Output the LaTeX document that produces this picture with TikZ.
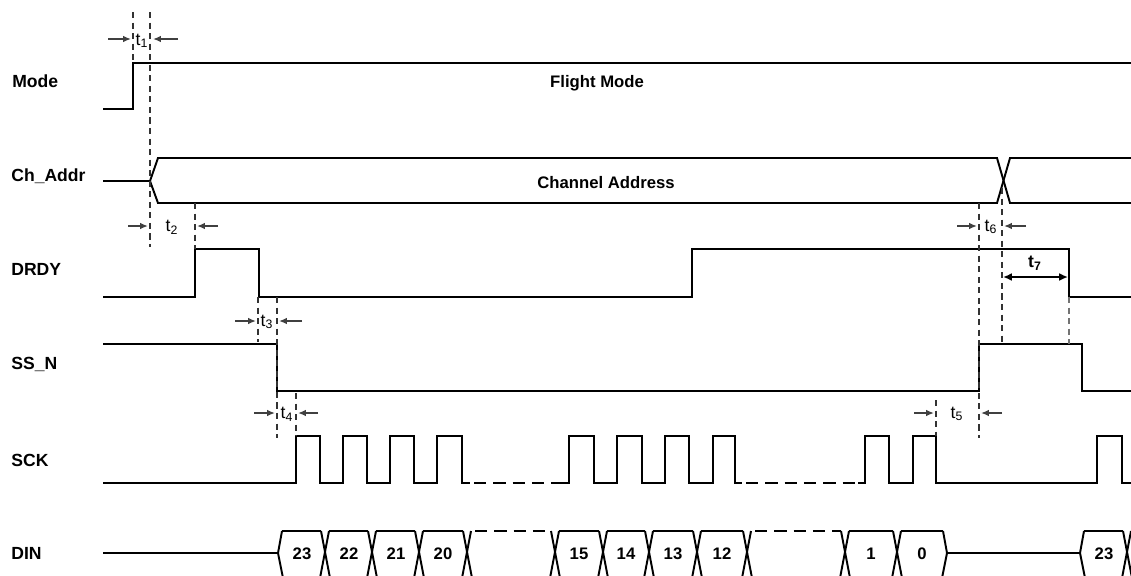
\documentclass[tikz,border=0pt]{standalone}
\usepackage{fontspec}
\setmainfont{Liberation Sans}
\usetikzlibrary{arrows.meta}
\begin{document}
\begin{tikzpicture}[x=0.02cm,y=-0.02cm,
  sig/.style={line width=1.1pt, line join=miter, line cap=butt},
  busdash/.style={sig, dash pattern=on 7pt off 4pt},
  guide/.style={line width=0.8pt, black!80, dash pattern=on 3.5pt off 2.5pt},
  marrow/.style={line width=0.9pt, black!75, -{Latex[length=4.5pt,width=3.8pt]}},
  barrow/.style={line width=1.3pt, black, {Latex[length=5pt,width=4.5pt]}-{Latex[length=5pt,width=4.5pt]}},
  lbl/.style={font=\fontsize{10}{12}\selectfont\bfseries, anchor=base west, inner sep=0pt},
  inlbl/.style={font=\fontsize{9.5}{11}\selectfont\bfseries, anchor=base, inner sep=0pt},
  tlbl/.style={font=\fontsize{10}{12}\selectfont, anchor=center, inner sep=0pt},
  num/.style={font=\fontsize{9.5}{11}\selectfont\bfseries, anchor=base, inner sep=0pt}]
\useasboundingbox (0,0) rectangle (1131,575);
\clip (0,0) rectangle (1131,575);

% signal names
\node[lbl] (lmode) at (12,87) {Mode};
\node[lbl] (lch)   at (11,181) {Ch\_Addr};
\node[lbl] (ldrdy) at (11,275) {DRDY};
\node[lbl] (lssn)  at (11,369) {SS\_N};
\node[lbl] (lsck)  at (11,466) {SCK};
\node[lbl] (ldin)  at (11,559) {DIN};

% Mode
\draw[sig] (103,109) -- (133,109) -- (133,63) -- (1131,63);
\node[inlbl] (fm) at (597,87) {Flight Mode};

% Ch_Addr
\draw[sig] (103,181) -- (150,181) -- (158,158) -- (997,158) -- (1010,203) -- (1131,203);
\draw[sig] (150,181) -- (158,203) -- (997,203) -- (1010,158) -- (1131,158);
\node[inlbl] (ca) at (606,188) {Channel Address};

% DRDY
\draw[sig] (103,297) -- (195,297) -- (195,249) -- (259,249) -- (259,297) -- (692,297)
  -- (692,249) -- (1069,249) -- (1069,297) -- (1131,297);

% SS_N
\draw[sig] (103,344) -- (277,344) -- (277,391) -- (979,391) -- (979,344) -- (1082,344)
  -- (1082,391) -- (1131,391);

% SCK
\draw[sig] (103,483) -- (296,483) -- (296,436) -- (320,436) -- (320,483) -- (343,483)
  -- (343,436) -- (367,436) -- (367,483) -- (390,483) -- (390,436) -- (414,436)
  -- (414,483) -- (437,483) -- (437,436) -- (462,436) -- (462,483) -- (470,483);
\draw[busdash] (474,483) -- (562,483);
\draw[sig] (562,483) -- (569,483) -- (569,436) -- (594,436) -- (594,483) -- (617,483)
  -- (617,436) -- (642,436) -- (642,483) -- (665,483) -- (665,436) -- (689,436)
  -- (689,483) -- (713,483) -- (713,436) -- (735,436) -- (735,483) -- (742,483);
\draw[busdash] (746,483) -- (858,483);
\draw[sig] (858,483) -- (865,483) -- (865,436) -- (889,436) -- (889,483) -- (913,483)
  -- (913,436) -- (936,436) -- (936,483) -- (1097,483) -- (1097,436) -- (1122,436)
  -- (1122,483) -- (1131,483);

% DIN bus (lower edge falls just below the picture's border)
\draw[sig] (103,553) -- (278,553) -- (282,531);
\draw[sig] (278,553) -- (283,578);
\foreach \c in {325,372,419,467,555,603,649,697,747,845,897,1127}{
  \draw[sig] (\c-4,531) -- (\c+5,578);
  \draw[sig] (\c-5,578) -- (\c+4,531);
}
\foreach \a/\b in {282/321,329/368,376/415,423/463,559/599,607/645,653/693,701/743,849/893,901/943,1084/1123,1131/1140}{
  \draw[sig] (\a,531) -- (\b,531);
  \draw[sig] (\a,578) -- (\b,578);
}
\draw[busdash] (475,531) -- (551,531);
\draw[busdash] (755,531) -- (841,531);
\draw[sig] (943,531) -- (947,553) -- (942,578);
\draw[sig] (947,553) -- (1080,553) -- (1084,531);
\draw[sig] (1080,553) -- (1085,578);
\foreach \x/\t in {302/23,349/22,396/21,443/20,579/15,626/14,673/13,722/12,871/1,922/0,1104/23}{
  \node[num] at (\x,559) {\t};
}

% guide lines
\draw[guide] (133,12) -- (133,63);
\draw[guide] (150,12) -- (150,247);
\draw[guide] (195,203) -- (195,249);
\draw[guide] (258,297) -- (258,342);
\draw[guide] (277,297) -- (277,438);
\draw[guide] (296,393) -- (296,436);
\draw[guide] (936,400) -- (936,436);
\draw[guide] (979,203) -- (979,438);
\draw[guide] (1002,188) -- (1002,344);
\draw[guide, black!55] (1069,297) -- (1069,344);

% timing arrows
\draw[marrow] (108,39) -- (131,39);
\draw[marrow] (178,39) -- (153,39);
\node[tlbl] (t1) at (142,41) {t\textsubscript{1}};

\draw[marrow] (128,226) -- (148,226);
\draw[marrow] (218,226) -- (197,226);
\node[tlbl] (t2) at (172,227) {t\textsubscript{2}};

\draw[marrow] (235,321) -- (256,321);
\draw[marrow] (302,321) -- (279,321);
\node[tlbl] (t3) at (267,322) {t\textsubscript{3}};

\draw[marrow] (254,413) -- (275,413);
\draw[marrow] (318,413) -- (298,413);
\node[tlbl] (t4) at (287,414) {t\textsubscript{4}};

\draw[marrow] (914,413) -- (934,413);
\draw[marrow] (1002,413) -- (981,413);
\node[tlbl] (t5) at (957,414) {t\textsubscript{5}};

\draw[marrow] (957,226) -- (977,226);
\draw[marrow] (1026,226) -- (1004,226);
\node[tlbl] (t6) at (991,227) {t\textsubscript{6}};

\draw[barrow] (1003,277) -- (1068,277);
\node[tlbl, font=\fontsize{10}{12}\selectfont\bfseries] (t7) at (1035,263) {t\textsubscript{7}};
\end{tikzpicture}
\end{document}
